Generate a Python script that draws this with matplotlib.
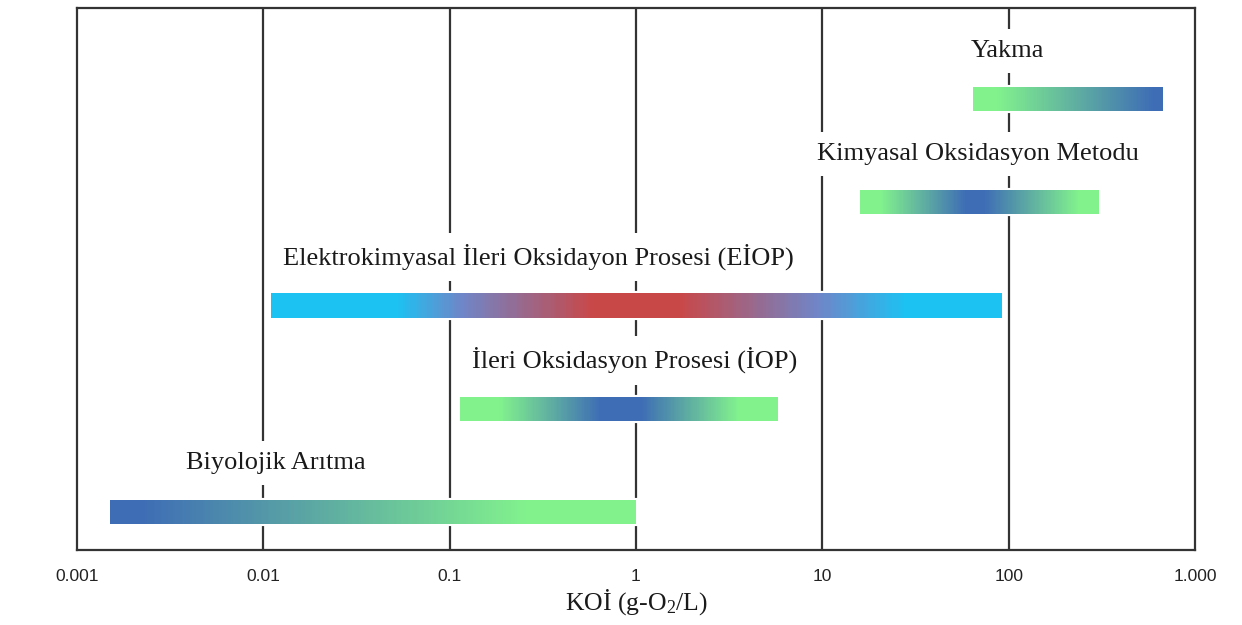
import numpy as np
import matplotlib
matplotlib.use("Agg")
import matplotlib.pyplot as plt
from matplotlib.colors import LinearSegmentedColormap

plt.rcParams["mathtext.fontset"] = "custom"
plt.rcParams["mathtext.rm"] = "Liberation Serif"
plt.rcParams["mathtext.it"] = "Liberation Serif:italic"

# Treatment methods and their applicable COD ranges (g O2 / L)
methods = ["Biyolojik Arıtma",
           "İleri Oksidasyon Prosesi (İOP)",
           "Elektrokimyasal İleri Oksidayon Prosesi (EİOP)",
           "Kimyasal Oksidasyon Metodu",
           "Yakma"]
range_low = [0.0015, 0.114, 0.011, 16.0, 64.0]
range_high = [1.0, 5.8, 92.0, 306.0, 675.0]

tick_values = [0.001, 0.01, 0.1, 1, 10, 100, 1000]
tick_labels = ["0.001", "0.01", "0.1", "1", "10", "100", "1.000"]

# Label anchor positions along the x axis
label_x = [0.0117, 0.98, 0.30, 68.0, 98.0]

GREEN = "#82F38C"
BLUE = "#3E6DB5"
CYAN = "#1CC2F2"
RED = "#C84848"

gradients = [
    [(0.0, BLUE), (0.06, BLUE), (0.80, GREEN), (1.0, GREEN)],
    [(0.0, GREEN), (0.12, GREEN), (0.44, BLUE), (0.57, BLUE), (0.88, GREEN), (1.0, GREEN)],
    [(0.0, CYAN), (0.17, CYAN), (0.26, "#6F86C8"), (0.44, RED), (0.56, RED),
     (0.75, "#6F86C8"), (0.87, CYAN), (1.0, CYAN)],
    [(0.0, GREEN), (0.08, GREEN), (0.44, BLUE), (0.52, BLUE), (0.92, GREEN), (1.0, GREEN)],
    [(0.0, GREEN), (0.12, GREEN), (0.95, BLUE), (1.0, BLUE)],
]

fig = plt.figure(figsize=(12.42, 6.25), dpi=100)
ax = fig.add_axes([77 / 1242, 75 / 625, 1118 / 1242, 542 / 625])
ax.set_xscale("log")
ax.set_xlim(1e-3, 1e3)
ax.set_ylim(-0.369, 4.883)

ax.set_yticks([])
ax.xaxis.set_major_locator(matplotlib.ticker.FixedLocator(tick_values))
ax.xaxis.set_minor_locator(matplotlib.ticker.NullLocator())
ax.set_xticklabels(tick_labels, fontfamily="Liberation Sans", fontsize=12.5, color="#222222")
ax.tick_params(axis="x", length=0, pad=14)

for v in tick_values[1:-1]:
    ax.axvline(v, color="#333333", lw=1.6, zorder=1)

for s in ax.spines.values():
    s.set_linewidth(1.6)
    s.set_color("#333333")
    s.set_zorder(6)

bar_h = 0.233
n_seg = 300
for i, (name, lo, hi) in enumerate(zip(methods, range_low, range_high)):
    # thin white halo around the bar
    ax.barh(i, hi - lo, left=lo, height=bar_h, color="white",
            edgecolor="white", linewidth=3, zorder=2)
    cmap = LinearSegmentedColormap.from_list(f"g{i}", gradients[i])
    edges = np.logspace(np.log10(lo), np.log10(hi), n_seg + 1)
    fr = (np.arange(n_seg) + 0.5) / n_seg
    ax.barh(np.full(n_seg, i), np.diff(edges) * 1.02, left=edges[:-1],
            height=bar_h, color=cmap(fr), linewidth=0, zorder=3)
    ax.text(label_x[i], i + 0.47, name, ha="center", va="center",
            fontfamily="Liberation Serif", fontsize=19, color="#1a1a1a",
            zorder=4,
            bbox=dict(facecolor="white", edgecolor="none", pad=8))

ax.set_xlabel("KOİ (g-O$_2$/L)", fontfamily="Liberation Serif", fontsize=18.5,
              color="#1a1a1a", labelpad=2)

fig.savefig("out.png", dpi=100, facecolor="white")
